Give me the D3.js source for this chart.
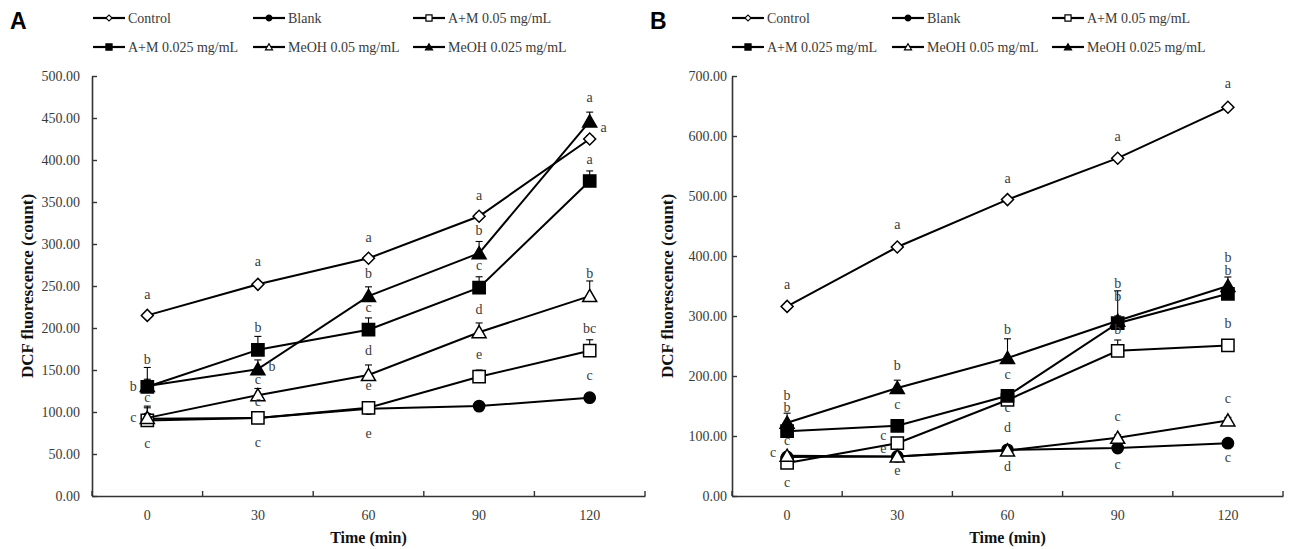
<!DOCTYPE html>
<html><head><meta charset="utf-8">
<script src="https://cdn.jsdelivr.net/npm/d3@7/dist/d3.min.js"></script>
<style>body{margin:0;background:#fff} svg{display:block}</style>
</head><body>
<svg id="c" width="1303" height="549"></svg>
<script>
// ---------- data ----------
const timeLabels = ["0", "30", "60", "90", "120"];
const seriesNames = ["Control", "Blank", "A+M 0.05 mg/mL", "A+M 0.025 mg/mL", "MeOH 0.05 mg/mL", "MeOH 0.025 mg/mL"];
const seriesMarkers = ["diamond", "circle", "squareOpen", "square", "triangleOpen", "triangle"];
const yTicksA = [0, 50, 100, 150, 200, 250, 300, 350, 400, 450, 500];
const yTicksB = [0, 100, 200, 300, 400, 500, 600, 700];

// Panel A values (DCF fluorescence count)
const aControl = [215, 252, 283, 333, 425];
const aBlank   = [92, 93, 104, 107, 117];
const aAM05    = [90, 93, 105, 142, 173];
const aAM025   = [130, 174, 198, 248, 375];
const aMeOH05  = [93, 120, 144, 195, 238];
const aMeOH025 = [131, 151, 238, 289, 446];
// Panel A error (upper)
const aControlErr = [3, 3, 3, 4, 4];
const aBlankErr   = [2, 2, 2, 2, 3];
const aAM05Err    = [15, 4, 4, 8, 13];
const aAM025Err   = [23, 16, 14, 13, 12];
const aMeOH05Err  = [14, 8, 12, 11, 18];
const aMeOH025Err = [8, 11, 11, 14, 11];
// Panel A significance letters: [time index, value level, text, side]
const lettersA = [
  [0, 240, "a", "c"], [0, 163, "b", "c"], [0, 130, "b", "l"], [0, 117, "c", "c"], [0, 94, "c", "l"], [0, 63, "c", "c"],
  [1, 279, "a", "c"], [1, 201, "b", "c"], [1, 154, "b", "r"], [1, 139, "c", "c"], [1, 112, "c", "c"], [1, 64, "c", "c"],
  [2, 308, "a", "c"], [2, 265, "b", "c"], [2, 225, "c", "c"], [2, 173, "d", "c"], [2, 131, "e", "c"], [2, 75, "e", "c"],
  [3, 358, "a", "c"], [3, 316, "b", "c"], [3, 274, "c", "c"], [3, 222, "d", "c"], [3, 168, "e", "c"],
  [4, 474, "a", "c"], [4, 439, "a", "r"], [4, 401, "a", "c"], [4, 265, "b", "c"], [4, 199, "bc", "c"], [4, 143, "c", "c"]
];

// Panel B values
const bControl = [316, 415, 494, 563, 648];
const bBlank   = [65, 66, 77, 80, 88];
const bAM05    = [55, 88, 160, 242, 251];
const bAM025   = [108, 117, 167, 288, 337];
const bMeOH05  = [67, 66, 76, 97, 126];
const bMeOH025 = [122, 180, 230, 292, 350];
const bControlErr = [4, 4, 4, 4, 4];
const bBlankErr   = [3, 3, 3, 3, 3];
const bAM05Err    = [5, 8, 8, 18, 8];
const bAM025Err   = [8, 8, 8, 12, 8];
const bMeOH05Err  = [5, 5, 5, 5, 5];
const bMeOH025Err = [16, 13, 32, 50, 15];
const lettersB = [
  [0, 352, "a", "c"], [0, 168, "b", "c"], [0, 147, "b", "c"], [0, 93, "c", "c"], [0, 72, "c", "l"], [0, 22, "c", "c"],
  [1, 453, "a", "c"], [1, 217, "b", "c"], [1, 153, "c", "c"], [1, 101, "c", "l"], [1, 80, "e", "l"], [1, 42, "e", "c"],
  [2, 530, "a", "c"], [2, 278, "b", "c"], [2, 203, "c", "c"], [2, 147, "c", "c"], [2, 115, "d", "c"], [2, 50, "d", "c"],
  [3, 600, "a", "c"], [3, 354, "b", "c"], [3, 333, "b", "c"], [3, 278, "b", "c"], [3, 132, "c", "c"], [3, 53, "c", "c"],
  [4, 687, "a", "c"], [4, 398, "b", "c"], [4, 376, "b", "c"], [4, 288, "b", "c"], [4, 163, "c", "c"], [4, 65, "c", "c"]
];

// ---------- layout / style ----------
const panels = [
  { letter: "A", values: [aControl, aBlank, aAM05, aAM025, aMeOH05, aMeOH025],
    errors: [aControlErr, aBlankErr, aAM05Err, aAM025Err, aMeOH05Err, aMeOH025Err],
    letters: lettersA, yTicks: yTicksA, x0: 92, x1: 645, labelGap: 12, legendX: 93, titleX: 27, letterX: 10 },
  { letter: "B", values: [bControl, bBlank, bAM05, bAM025, bMeOH05, bMeOH025],
    errors: [bControlErr, bBlankErr, bAM05Err, bAM025Err, bMeOH05Err, bMeOH025Err],
    letters: lettersB, yTicks: yTicksB, x0: 732, x1: 1283, labelGap: 5, legendX: 732, titleX: 667, letterX: 650 }
];
const yTop = 76, yBottom = 496;
const serif = "'Liberation Serif', 'Times New Roman', serif";
const ink = "#000";
const axisInk = "#333";
const textInk = "#3a3a3a";

const svg = d3.select("#c");

function markerPath(kind, big) {
  const s = big ? 1 : 0.5;
  if (kind === "diamond") return d3.symbol().type(d3.symbolSquare).size(72 * s * s)();
  if (kind === "circle") return d3.symbol().type(d3.symbolCircle).size(100 * s * s)();
  if (kind === "square" || kind === "squareOpen") return d3.symbol().type(d3.symbolSquare).size(150 * s * s)();
  return d3.symbol().type(d3.symbolTriangle).size(85 * s * s)();
}
function drawMarker(g, kind, x, y, big) {
  const open = kind === "diamond" || kind.endsWith("Open");
  const p = g.append("path")
    .attr("d", markerPath(kind, big))
    .attr("fill", open ? "#fff" : ink)
    .attr("stroke", ink)
    .attr("stroke-width", big ? 1.5 : 1.2);
  let tr = `translate(${x},${y})`;
  if (kind === "diamond") tr += " rotate(45)";
  if (kind.startsWith("triangle")) tr = `translate(${x},${y + (big ? 1.5 : 0.8)})`;
  p.attr("transform", tr);
}

panels.forEach(P => {
  const yMax = P.yTicks[P.yTicks.length - 1];
  const y = d3.scaleLinear().domain([0, yMax]).range([yBottom, yTop]);
  const x = d3.scaleBand().domain(timeLabels).range([P.x0, P.x1]).padding(0);
  const cx = d => x(d) + x.bandwidth() / 2;
  const g = svg.append("g");

  // panel letter
  g.append("text").attr("x", P.letterX).attr("y", 29)
    .attr("font-family", "'Liberation Sans', Arial, sans-serif").attr("font-weight", "bold")
    .attr("font-size", 23).attr("fill", "#000").text(P.letter);

  // y axis
  const ya = g.append("g").attr("transform", `translate(${P.x0},0)`)
    .call(d3.axisLeft(y).tickValues(P.yTicks).tickFormat(d3.format(".2f"))
      .tickSizeInner(-5).tickSizeOuter(0).tickPadding(P.labelGap));
  ya.select(".domain").attr("stroke", axisInk).attr("stroke-width", 1.6);
  ya.selectAll(".tick line").attr("stroke", axisInk).attr("stroke-width", 1.4);
  ya.selectAll(".tick text").attr("font-family", serif).attr("font-size", 14).attr("fill", textInk);

  // x axis (labels at band centres, ticks at band edges)
  const xa = g.append("g").attr("transform", `translate(0,${yBottom})`)
    .call(d3.axisBottom(x).tickSize(0).tickPadding(14));
  xa.select(".domain").attr("stroke", axisInk).attr("stroke-width", 1.6);
  xa.selectAll(".tick text").attr("font-family", serif).attr("font-size", 14).attr("fill", textInk);
  const edges = timeLabels.map(d => x(d)).concat([x.range()[1]]);
  g.append("g").selectAll("line").data(edges).join("line")
    .attr("x1", d => d).attr("x2", d => d).attr("y1", yBottom).attr("y2", yBottom - 5)
    .attr("stroke", axisInk).attr("stroke-width", 1.4);

  // axis titles
  g.append("text").attr("transform", `translate(${P.titleX},${(yTop + yBottom) / 2}) rotate(-90)`)
    .attr("text-anchor", "middle").attr("dominant-baseline", "central")
    .attr("font-family", serif).attr("font-weight", "bold").attr("font-size", 17).attr("fill", "#111")
    .text("DCF fluorescence (count)");
  g.append("text").attr("x", (P.x0 + P.x1) / 2).attr("y", 543).attr("text-anchor", "middle")
    .attr("font-family", serif).attr("font-weight", "bold").attr("font-size", 16).attr("fill", "#111")
    .text("Time (min)");

  // series
  const line = d3.line().x((d, i) => cx(timeLabels[i])).y(d => y(d));
  P.values.forEach((vals, si) => {
    const sg = g.append("g");
    sg.append("path").datum(vals).attr("d", line)
      .attr("fill", "none").attr("stroke", ink).attr("stroke-width", 2);
    vals.forEach((v, i) => {
      const e = P.errors[si][i];
      const px = cx(timeLabels[i]);
      sg.append("line").attr("x1", px).attr("x2", px).attr("y1", y(v)).attr("y2", y(v + e))
        .attr("stroke", ink).attr("stroke-width", 1.1);
      sg.append("line").attr("x1", px - 3.5).attr("x2", px + 3.5).attr("y1", y(v + e)).attr("y2", y(v + e))
        .attr("stroke", ink).attr("stroke-width", 1.1);
    });
    vals.forEach((v, i) => drawMarker(sg, seriesMarkers[si], cx(timeLabels[i]), y(v), true));
  });

  // significance letters
  g.append("g").selectAll("text").data(P.letters).join("text")
    .attr("x", d => cx(timeLabels[d[0]]) + (d[3] === "l" ? -14 : d[3] === "r" ? 14 : 0))
    .attr("y", d => y(d[1]))
    .attr("text-anchor", "middle").attr("dominant-baseline", "central")
    .attr("font-family", serif).attr("font-size", 14).attr("fill", textInk)
    .text(d => d[2]);

  // legend: 3 columns x 2 rows
  const colOffsets = [0, 160, 320];
  const rowY = [18, 47];
  seriesNames.forEach((name, i) => {
    const lx = P.legendX + colOffsets[i % 3];
    const ly = rowY[Math.floor(i / 3)];
    const lg = g.append("g");
    lg.append("line").attr("x1", lx).attr("x2", lx + 32).attr("y1", ly).attr("y2", ly)
      .attr("stroke", ink).attr("stroke-width", 2.2);
    drawMarker(lg, seriesMarkers[i], lx + 16, ly, false);
    lg.append("text").attr("x", lx + 35).attr("y", ly).attr("dominant-baseline", "central")
      .attr("font-family", serif).attr("font-size", 14).attr("fill", textInk).text(name);
  });
});
</script>
</body></html>
